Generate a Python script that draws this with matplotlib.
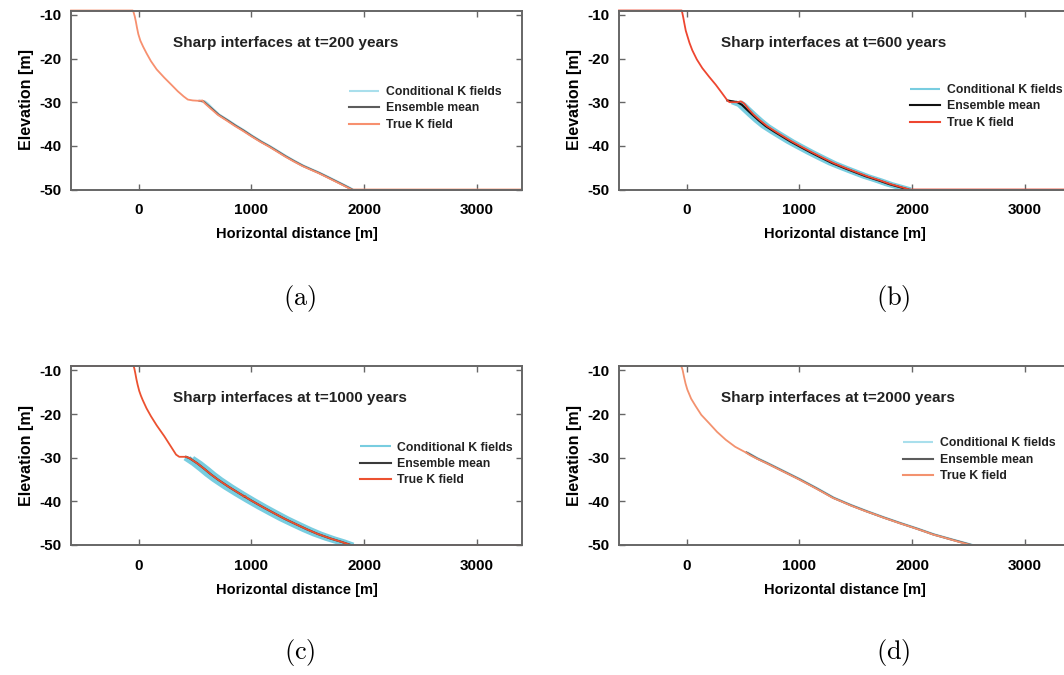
import matplotlib.pyplot as plt

plt.rcParams["font.family"] = ["Liberation Sans", "DejaVu Sans"]
plt.rcParams["mathtext.fontset"] = "cm"
plt.rcParams["axes.unicode_minus"] = False

X_TICKS = [0, 1000, 2000, 3000]
Y_TICKS = [-10, -20, -30, -40, -50]
TITLES = ["Sharp interfaces at t=200 years", "Sharp interfaces at t=600 years",
          "Sharp interfaces at t=1000 years", "Sharp interfaces at t=2000 years"]
TAGS = ["(a)", "(b)", "(c)", "(d)"]

# panel (a), t=200 years
A_TRUE_X = [-600, -53, -45, -35, -25, -15, -3, 15, 40, 70, 109, 160, 228, 290, 347, 400, 436,
            480, 540, 565, 584, 640, 702, 780, 850, 920, 998, 1080, 1150, 1220, 1295, 1370,
            1450, 1520, 1591, 1670, 1740, 1810, 1887, 3400]
A_TRUE_Y = [-9.0, -9.0, -9.4, -10.3, -11.5, -12.9, -14.4, -15.9, -17.3, -18.8, -20.6, -22.5,
            -24.4, -26.0, -27.5, -28.7, -29.4, -29.6, -29.7, -29.6, -30.2, -31.5, -32.9, -34.2,
            -35.4, -36.5, -37.8, -39.1, -40.1, -41.2, -42.4, -43.5, -44.6, -45.4, -46.2, -47.2,
            -48.1, -49.0, -50.0, -50.0]
A_MEAN_X = [540, 575, 600, 650, 710, 790, 860, 930, 1006, 1088, 1158, 1228, 1303, 1378, 1458,
            1528, 1599, 1678, 1748, 1818, 1893]
A_MEAN_Y = [-29.7, -29.8, -30.4, -31.5, -32.9, -34.2, -35.4, -36.5, -37.8, -39.1, -40.1, -41.2,
            -42.4, -43.5, -44.6, -45.4, -46.2, -47.2, -48.1, -49.0, -50.0]
A_COND = [
    ([560, 590, 615, 656, 716, 796, 866, 936, 1012, 1094, 1164, 1234, 1309, 1384, 1464, 1534,
      1605, 1684, 1754, 1824, 1899],
     [-29.8, -29.9, -30.4, -31.5, -32.9, -34.2, -35.4, -36.5, -37.8, -39.1, -40.1, -41.2, -42.4,
      -43.5, -44.6, -45.4, -46.2, -47.2, -48.1, -49.0, -50.0]),
]

# panel (b), t=600 years
B_TRUE_X = [-600, -44, -38, -30, -20, -8, 6, 25, 50, 90, 139, 200, 258, 310, 361, 380, 450,
            480, 510, 550, 596, 652, 714, 792, 862, 932, 1010, 1112, 1212, 1307, 1412, 1512,
            1603, 1712, 1812, 1977, 3400]
B_TRUE_Y = [-9.0, -9.0, -9.6, -10.6, -12.0, -13.6, -14.8, -16.4, -18.1, -20.2, -22.2, -24.2,
            -26.0, -27.8, -29.6, -30.0, -30.0, -29.8, -30.3, -31.6, -32.9, -34.2, -35.5, -36.8,
            -37.9, -39.0, -40.1, -41.5, -42.8, -44.0, -45.1, -46.1, -47.0, -47.9, -48.8, -50.0,
            -50.0]
B_MEAN_X = [361, 450, 490, 530, 584, 640, 702, 780, 850, 920, 998, 1100, 1200, 1295, 1400,
            1500, 1591, 1700, 1800, 1965]
B_MEAN_Y = [-29.6, -30.0, -30.6, -31.6, -32.9, -34.2, -35.5, -36.8, -37.9, -39.0, -40.1, -41.5,
            -42.8, -44.0, -45.1, -46.1, -47.0, -47.9, -48.8, -50.0]
B_COND = [
    ([400, 460, 500, 554, 610, 672, 750, 820, 890, 968, 1070, 1170, 1265, 1370, 1470, 1561,
      1670, 1770, 1935],
     [-30.0, -30.6, -31.6, -32.9, -34.2, -35.5, -36.8, -37.9, -39.0, -40.1, -41.5, -42.8,
      -44.0, -45.1, -46.1, -47.0, -47.9, -48.8, -50.0]),
    ([430, 485, 525, 579, 635, 697, 775, 845, 915, 993, 1095, 1195, 1290, 1395, 1495, 1586,
      1695, 1795, 1960],
     [-30.0, -30.6, -31.6, -32.9, -34.2, -35.5, -36.8, -37.9, -39.0, -40.1, -41.5, -42.8,
      -44.0, -45.1, -46.1, -47.0, -47.9, -48.8, -50.0]),
    ([480, 515, 555, 609, 665, 727, 805, 875, 945, 1023, 1125, 1225, 1320, 1425, 1525, 1616,
      1725, 1825, 1990],
     [-30.0, -30.6, -31.6, -32.9, -34.2, -35.5, -36.8, -37.9, -39.0, -40.1, -41.5, -42.8,
      -44.0, -45.1, -46.1, -47.0, -47.9, -48.8, -50.0]),
]

# panel (c), t=1000 years
C_TRUE_X = [-600, -45, -38, -30, -20, -9, 5, 20, 36, 70, 109, 160, 228, 280, 332, 360, 421,
            450, 520, 584, 640, 702, 800, 900, 915, 930, 945, 960, 998, 1100, 1200, 1295, 1400,
            1500, 1591, 1700, 1800, 1880, 3400]
C_TRUE_Y = [-9.0, -9.0, -9.6, -10.6, -12.0, -13.3, -14.7, -15.8, -16.8, -18.7, -20.5, -22.6,
            -25.1, -27.2, -29.3, -29.8, -29.8, -30.1, -31.3, -32.6, -33.8, -35.0, -36.7, -38.3,
            -38.5, -38.9, -38.8, -39.2, -39.8, -41.3, -42.7, -44.0, -45.3, -46.5, -47.5, -48.5,
            -49.3, -50.0, -50.0]
C_MEAN_X = [421, 450, 520, 584, 640, 702, 800, 900, 998, 1100, 1200, 1295, 1400, 1500, 1591,
            1700, 1800, 1880]
C_MEAN_Y = [-29.8, -30.1, -31.3, -32.6, -33.8, -35.0, -36.7, -38.3, -39.8, -41.3, -42.7, -44.0,
            -45.3, -46.5, -47.5, -48.5, -49.3, -50.0]
C_COND = [
    ([410, 480, 544, 600, 662, 760, 860, 958, 1060, 1160, 1255, 1360, 1460, 1551, 1660, 1760,
      1840],
     [-30.1, -31.3, -32.6, -33.8, -35.0, -36.7, -38.3, -39.8, -41.3, -42.7, -44.0, -45.3,
      -46.5, -47.5, -48.5, -49.3, -50.0]),
    ([445, 515, 579, 635, 697, 795, 895, 993, 1095, 1195, 1290, 1395, 1495, 1586, 1695, 1795,
      1875],
     [-30.1, -31.3, -32.6, -33.8, -35.0, -36.7, -38.3, -39.8, -41.3, -42.7, -44.0, -45.3,
      -46.5, -47.5, -48.5, -49.3, -50.0]),
    ([480, 550, 614, 670, 732, 830, 930, 1028, 1130, 1230, 1325, 1430, 1530, 1621, 1730, 1830,
      1905],
     [-30.1, -31.3, -32.6, -33.8, -35.0, -36.7, -38.3, -39.8, -41.3, -42.7, -44.0, -45.3,
      -46.5, -47.5, -48.5, -49.3, -50.0]),
]

# panel (d), t=2000 years
D_TRUE_X = [-600, -50, -42, -35, -24, -10, 6, 40, 80, 130, 199, 270, 347, 430, 524, 560, 620,
            702, 780, 850, 920, 998, 1070, 1150, 1220, 1295, 1370, 1450, 1520, 1591, 1670, 1740,
            1810, 1887, 1960, 2040, 2110, 2184, 2270, 2350, 2430, 2520, 3400]
D_TRUE_Y = [-9.0, -9.0, -9.4, -10.0, -11.4, -13.0, -14.4, -16.5, -18.2, -20.2, -22.1, -24.1,
            -25.9, -27.5, -28.8, -29.4, -30.2, -31.2, -32.2, -33.1, -34.0, -35.0, -36.0, -37.1,
            -38.1, -39.2, -40.0, -40.9, -41.6, -42.3, -43.0, -43.7, -44.3, -45.0, -45.6, -46.3,
            -46.9, -47.6, -48.2, -48.8, -49.4, -50.0, -50.0]
D_MEAN_X = [530, 626, 708, 856, 1004, 1156, 1301, 1456, 1597, 1746, 1893, 2046, 2190, 2356, 2526]
D_MEAN_Y = [-28.8, -30.2, -31.2, -33.1, -35.0, -37.1, -39.2, -40.9, -42.3, -43.7, -45.0, -46.3,
            -47.6, -48.8, -50.0]
D_COND = [
    ([536, 632, 714, 862, 1010, 1162, 1307, 1462, 1603, 1752, 1899, 2052, 2196, 2362, 2532],
     [-28.8, -30.2, -31.2, -33.1, -35.0, -37.1, -39.2, -40.9, -42.3, -43.7, -45.0, -46.3,
      -47.6, -48.8, -50.0]),
]

TRUE_X = [A_TRUE_X, B_TRUE_X, C_TRUE_X, D_TRUE_X]
TRUE_Y = [A_TRUE_Y, B_TRUE_Y, C_TRUE_Y, D_TRUE_Y]
MEAN_X = [A_MEAN_X, B_MEAN_X, C_MEAN_X, D_MEAN_X]
MEAN_Y = [A_MEAN_Y, B_MEAN_Y, C_MEAN_Y, D_MEAN_Y]
CONDS = [A_COND, B_COND, C_COND, D_COND]

# styling per panel
COND_COLORS = ["#a9dfec", "#78cde0", "#78cde0", "#a9dfec"]
MEAN_COLORS = ["#5c5c5c", "#111111", "#3a3a3a", "#5c5c5c"]
TRUE_COLORS = ["#f7906f", "#ee4630", "#ec5130", "#f3926f"]
COND_LW = [1.8, 3.0, 3.4, 1.8]
LEGEND_POS = [(0.616, 0.578), (0.645, 0.589), (0.641, 0.578), (0.629, 0.601)]

# axes rectangles in figure fraction (left, bottom, width, height)
W, H = 451 / 1064, 179 / 675
RECTS = [(71 / 1064, 1 - 189.5 / 675, W, H), (619 / 1064, 1 - 189.5 / 675, W, H),
         (71 / 1064, 1 - 545 / 675, W, H), (619 / 1064, 1 - 545 / 675, W, H)]
TAG_POS = [(300 / 1064, 1 - 298 / 675), (893 / 1064, 1 - 298 / 675),
           (300 / 1064, 1 - 653 / 675), (893 / 1064, 1 - 653 / 675)]

fig = plt.figure(figsize=(10.64, 6.75), dpi=100)

for i in range(4):
    ax = fig.add_axes(RECTS[i])
    for k, (cx, cy) in enumerate(CONDS[i]):
        ax.plot(cx, cy, color=COND_COLORS[i], lw=COND_LW[i], solid_capstyle="butt",
                label="Conditional K fields" if k == 0 else None)
    ax.plot(MEAN_X[i], MEAN_Y[i], color=MEAN_COLORS[i], lw=1.5, label="Ensemble mean")
    ax.plot(TRUE_X[i], TRUE_Y[i], color=TRUE_COLORS[i], lw=1.3, label="True K field",
            clip_on=False)

    ax.set_xlim(-600, 3400)
    ax.set_ylim(-50, -9)
    ax.set_xticks(X_TICKS)
    ax.set_yticks(Y_TICKS)
    ax.tick_params(direction="in", length=4, width=1.0, color="#666666",
                   top=True, right=True, labelsize=11)
    ax.tick_params(axis="x", pad=10)
    ax.tick_params(axis="y", pad=7)
    for lab in ax.get_xticklabels() + ax.get_yticklabels():
        lab.set_fontweight("bold")
    for sp in ax.spines.values():
        sp.set_color("#666666")
        sp.set_linewidth(1.4)

    ax.set_xlabel("Horizontal distance [m]", fontsize=10.5, fontweight="bold", labelpad=7)
    ax.set_ylabel("Elevation [m]", fontsize=11.5, fontweight="bold", labelpad=4)
    ax.text(0.226, 0.82, TITLES[i], transform=ax.transAxes, fontsize=11,
            fontweight="bold", va="center", ha="left", color="#222222")

    leg = ax.legend(loc="upper left", bbox_to_anchor=LEGEND_POS[i], frameon=False,
                    borderpad=0, borderaxespad=0, handlelength=2.5, handletextpad=0.55,
                    labelspacing=0.36, prop={"size": 8.8, "weight": "bold"})
    for line in leg.get_lines():
        line.set_linewidth(1.5)
    for t in leg.get_texts():
        t.set_color("#222222")

    fig.text(TAG_POS[i][0], TAG_POS[i][1], r"$\mathrm{" + TAGS[i] + "}$",
             fontsize=19, ha="center", va="center")

fig.savefig("out.png", dpi=100)
